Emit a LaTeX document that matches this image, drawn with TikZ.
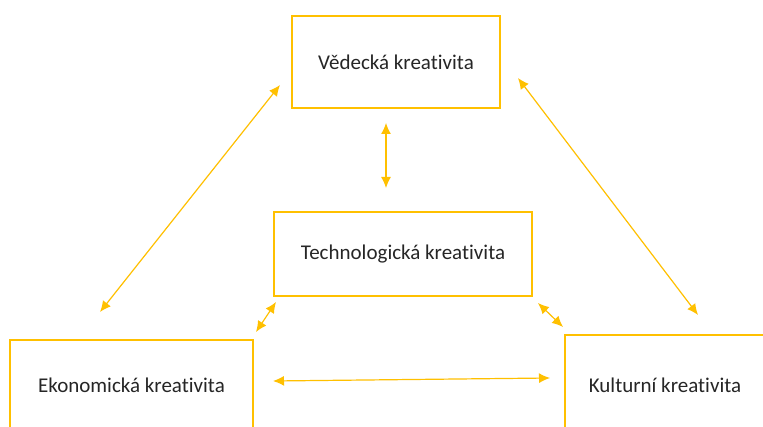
\documentclass[tikz,border=0pt]{standalone}
\usepackage{fontspec}
\setmainfont[Ligatures=NoCommon]{Carlito}
\usetikzlibrary{arrows.meta}
\definecolor{zlata}{RGB}{255,192,0}
\begin{document}
\begin{tikzpicture}[x=1pt, y=-1pt,
		rect/.style={shape=rectangle, draw=zlata, line width=1.2pt, fill=white, inner sep=0pt, text=black!85, font=\fontsize{21}{25}\selectfont},
		sipka/.style={{Latex[length=11pt,width=10pt]}-{Latex[length=11pt,width=10pt]}, draw=zlata, line width=1.2pt}]
		\clip (0,0) rectangle (763,427);
		\fill[white] (0,0) rectangle (763,427);
		\node (vedecka) at (396,62) [rect, minimum width=208pt, minimum height=92pt] {Vědecká kreativita};
		\node (technol) at (403,254) [rect, minimum width=258pt, minimum height=84pt] {Technologická kreativita};
		\node (ekonom) at (131.5,385) [rect, minimum width=243pt, minimum height=90pt] {Ekonomická kreativita};
		\node (kultur) at (665,385) [rect, minimum width=200pt, minimum height=100pt] {Kulturní kreativita};
		% konce sipek
		\coordinate (vl) at (280,85);
		\coordinate (el) at (100,312);
		\coordinate (vd) at (386,123);
		\coordinate (th) at (386,188);
		\coordinate (vp) at (518,78);
		\coordinate (kp) at (698,315);
		\coordinate (tl) at (276,302);
		\coordinate (eh) at (256,332);
		\coordinate (tp) at (538,303);
		\coordinate (kh) at (563,327);
		\coordinate (ep) at (273,381);
		\coordinate (kl) at (550,378);
		\draw[sipka] (vl) -- (el);
		\draw[sipka] (vd) -- (th);
		\draw[sipka] (vp) -- (kp);
		\draw[sipka] (tl) -- (eh);
		\draw[sipka] (tp) -- (kh);
		\draw[sipka] (ep) -- (kl);
\end{tikzpicture}
\end{document}
